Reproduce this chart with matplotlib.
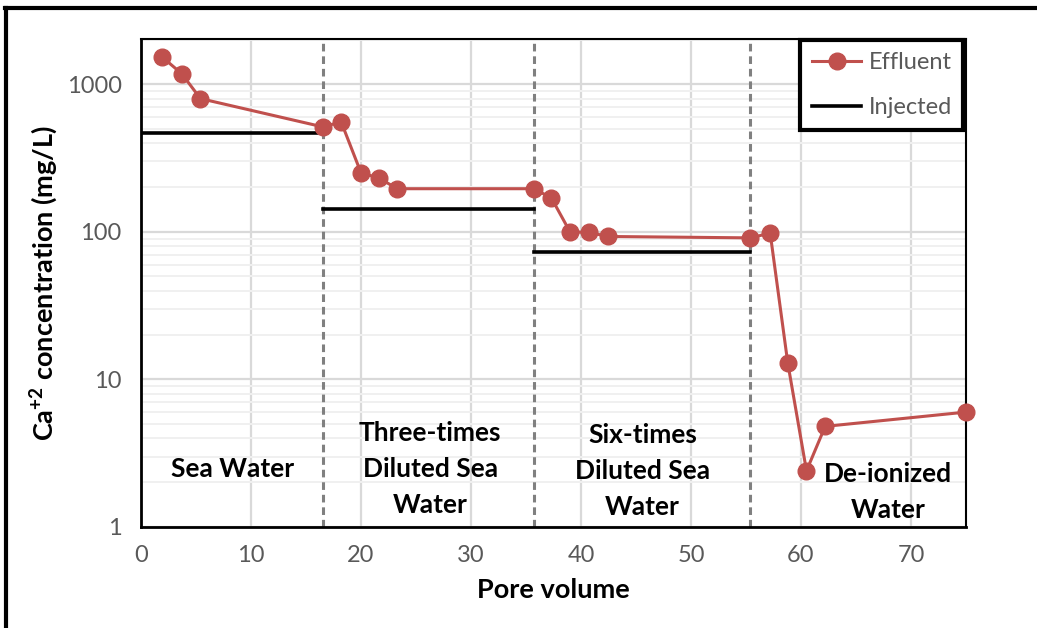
import numpy as np
import matplotlib.pyplot as plt
from matplotlib.lines import Line2D
from matplotlib.ticker import FixedLocator, FixedFormatter, LogLocator, NullFormatter

# Effluent Ca concentration vs pore volume
effluent_pv = [1.9, 3.7, 5.4, 16.5, 18.2, 20.0, 21.6, 23.3, 35.7, 37.3, 39.0, 40.7, 42.5,
               55.4, 57.2, 58.8, 60.5, 62.2, 75.0]
effluent_ca = [1535, 1180, 800, 515, 555, 251, 232, 196, 196, 170, 100, 99, 93,
               91, 98, 12.9, 2.4, 4.8, 6.0]

# Injected brine concentration per stage (start, end, value)
injected_start = [0.0, 16.5, 35.7]
injected_end = [16.5, 35.7, 55.4]
injected_ca = [470, 143, 73]

stage_bounds = [16.5, 35.7, 55.4]
stage_names = ["Sea Water", "Three-times\nDiluted Sea\nWater", "Six-times\nDiluted Sea\nWater",
               "De-ionized\nWater"]
stage_label_x = [8.3, 26.3, 45.6, 67.9]
stage_label_y = [0.119, 0.119, 0.115, 0.072]

x_ticks = [0, 10, 20, 30, 40, 50, 60, 70]
y_ticks = [1, 10, 100, 1000]

plt.rcParams["font.family"] = ["Lato", "DejaVu Sans"]
plt.rcParams["mathtext.fontset"] = "custom"
plt.rcParams["mathtext.rm"] = "Lato:bold"
plt.rcParams["mathtext.it"] = "Lato:bold"

fig = plt.figure(figsize=(10.37, 6.28), dpi=100)
ax = fig.add_axes([0.136, 0.161, 0.7955, 0.777])

red = "#C0504D"
grey_text = "#595959"

ax.set_yscale("log")
ax.set_xlim(0, 75)
ax.set_ylim(1, 2030)

# Grid
ax.xaxis.set_major_locator(FixedLocator(x_ticks))
ax.yaxis.set_major_locator(FixedLocator(y_ticks))
ax.yaxis.set_major_formatter(FixedFormatter([str(v) for v in y_ticks]))
ax.yaxis.set_minor_locator(LogLocator(base=10, subs=np.arange(2, 10)))
ax.yaxis.set_minor_formatter(NullFormatter())
ax.grid(which="major", axis="both", color="#d9d9d9", linewidth=1.6)
ax.grid(which="minor", axis="y", color="#f0f0f0", linewidth=1.4)
ax.set_axisbelow(True)
ax.tick_params(which="both", length=0)
ax.tick_params(axis="y", labelsize=17, labelcolor=grey_text, pad=14)
ax.tick_params(axis="x", labelsize=17, labelcolor=grey_text, pad=13)

for s in ax.spines.values():
    s.set_color("black")
    s.set_linewidth(1.5)
ax.spines["left"].set_linewidth(2)
ax.spines["bottom"].set_linewidth(2)

# Stage boundaries
for b in stage_bounds:
    ax.axvline(b, color="#808080", linewidth=2.2, linestyle=(0, (2.5, 1.6)), zorder=2)

# Injected lines
for i, (x0, x1, v) in enumerate(zip(injected_start, injected_end, injected_ca)):
    ax.plot([x0, x1], [v, v], color="black", linewidth=2.6, zorder=3,
            label="Injected" if i == 0 else None)

ax.plot(effluent_pv, effluent_ca, color=red, linewidth=2.2, marker="o", markersize=12,
        zorder=4, clip_on=False, label="Effluent")

for name, x, y in zip(stage_names, stage_label_x, stage_label_y):
    ax.text(x, y, name, transform=ax.get_xaxis_transform(), ha="center", va="center",
            fontsize=19, fontweight="bold", linespacing=1.6, zorder=5)

ax.set_xlabel("Pore volume", fontsize=19.5, fontweight="bold", labelpad=9)
ax.set_ylabel(r"Ca$^{+2}$ concentration (mg/L)", fontsize=19.5, fontweight="bold", labelpad=5)

handles, labels = ax.get_legend_handles_labels()
order = [labels.index("Effluent"), labels.index("Injected")]
leg = ax.legend([handles[i] for i in order], [labels[i] for i in order],
                loc="upper right", bbox_to_anchor=(0.997, 0.997), borderaxespad=0,
                fontsize=17, handlelength=2.1, labelspacing=1.0, handletextpad=0.3,
                fancybox=False, framealpha=1, edgecolor="black", borderpad=0.5)
leg.get_frame().set_linewidth(3)
for t in leg.get_texts():
    t.set_color(grey_text)

# Outer border (top and left only visible)
fig.add_artist(Line2D([0.005, 1.0], [0.987, 0.987], color="black", linewidth=3,
                      transform=fig.transFigure))
fig.add_artist(Line2D([0.006, 0.006], [0.0, 0.987], color="black", linewidth=3,
                      transform=fig.transFigure))

fig.savefig("out.png", dpi=100)
